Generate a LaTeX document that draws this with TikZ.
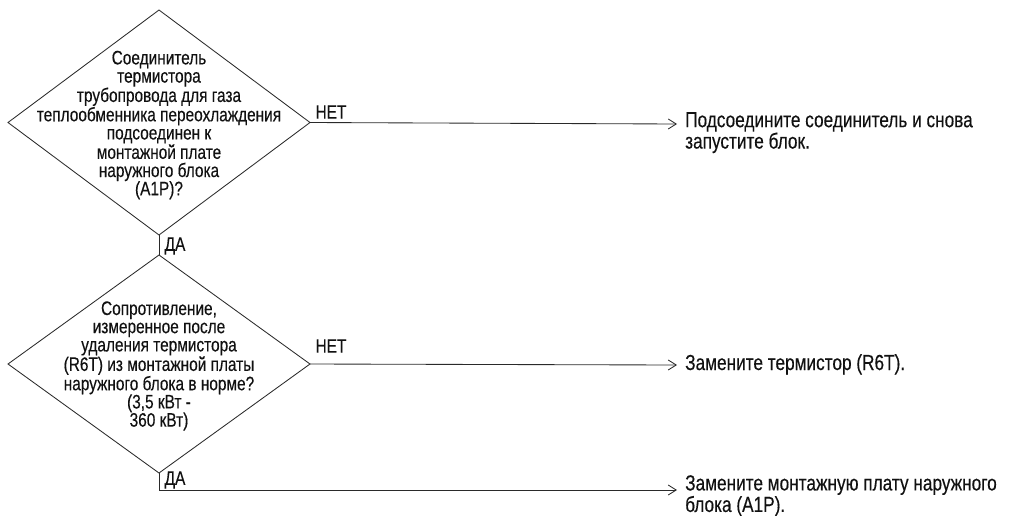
\documentclass[tikz,border=0pt]{standalone}
\usepackage{fontspec}
\setmainfont{Liberation Sans}[FakeStretch=0.79,FakeBold=0.3]
\usetikzlibrary{arrows.meta,shapes.geometric}
\definecolor{ink}{HTML}{111111}
\definecolor{wire}{HTML}{2A2A2A}
\begin{document}
\begin{tikzpicture}[x=1pt,y=-1pt,
  decision/.style={draw=wire, line width=0.85pt, shape=diamond, inner sep=0pt, outer sep=0pt},
  qtext/.style={align=center, text=ink, inner sep=0pt, font=\fontsize{19.5}{18.2}\selectfont},
  actiontext/.style={align=left, text=ink, inner sep=0pt, anchor=north west, font=\fontsize{21.8}{16.5}\selectfont},
  answer/.style={text=ink, inner sep=0pt, font=\fontsize{19.5}{19}\selectfont},
  flow/.style={draw=wire, line width=0.85pt},
  flowarrow/.style={flow, -{Straight Barb[length=8pt,width=10pt,line width=0.85pt]}}]
\useasboundingbox (0,0) rectangle (1014,515);

% decision 1: connector check
\node[decision, minimum width=302pt, minimum height=225pt] (q1) at (159,122.5) {};
\node[qtext] (q1text) at (159,125) {Соединитель\\термистора\\трубопровода для газа\\теплообменника переохлаждения\\подсоединен к\\монтажной плате\\наружного блока\\(A1P)?};

% decision 2: resistance check
\node[decision, minimum width=302pt, minimum height=218pt] (q2) at (159,364) {};
\node[qtext] (q2text) at (159,366) {Сопротивление,\\измеренное после\\удаления термистора\\(R6T) из монтажной платы\\наружного блока в норме?\\(3,5 кВт -\\360 кВт)};

% action texts
\coordinate (e1) at (677,124);
\coordinate (e2) at (677,365);
\coordinate (e3) at (677,490);
\node[actiontext] (a1) at (685,112) {Подсоедините соединитель и снова\\запустите блок.};
\node[actiontext] (a2) at (685,354) {Замените термистор (R6T).};
\node[actiontext] (a3) at (685,475) {Замените монтажную плату наружного\\блока (A1P).};

% connectors
\draw[flowarrow] (q1.east) -- (e1);
\draw[flowarrow] (q2.east) -- (e2);
\draw[flow] (q1.south) -- (q2.north);
\draw[flowarrow] (q2.south) |- (e3);

% answer labels
\node[answer] (n1) at (331,112) {НЕТ};
\node[answer] (n2) at (331,346) {НЕТ};
\node[answer] (y1) at (175,246) {ДА};
\node[answer] (y2) at (175,480) {ДА};
\end{tikzpicture}
\end{document}
